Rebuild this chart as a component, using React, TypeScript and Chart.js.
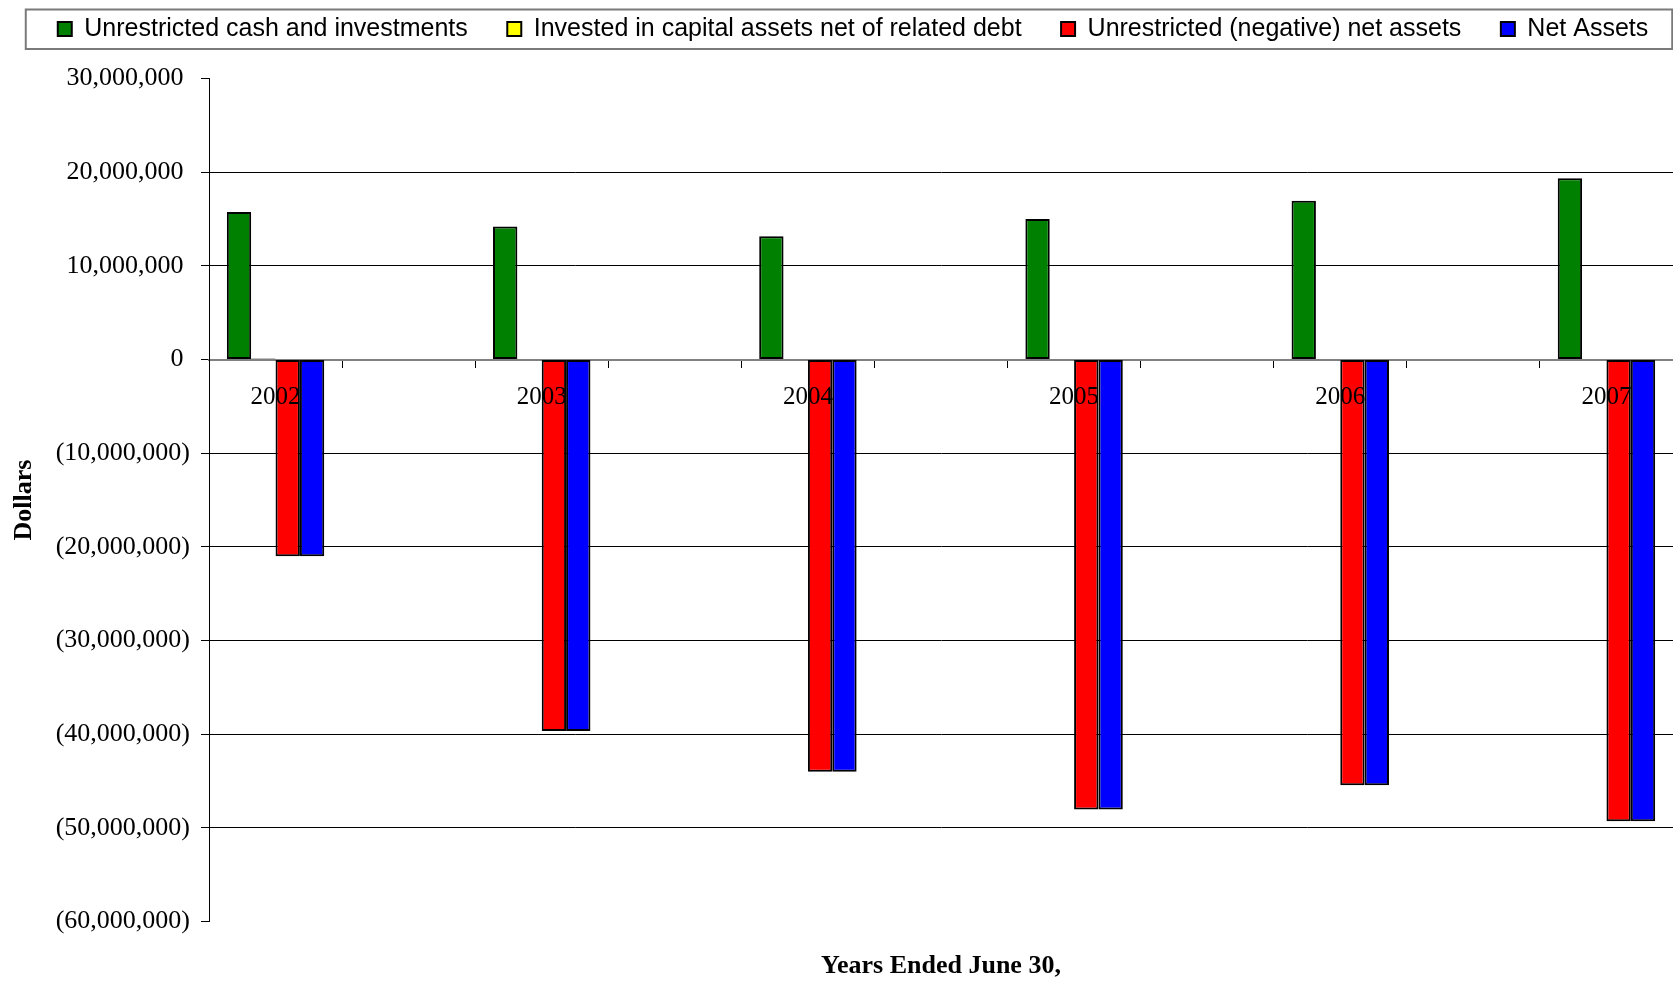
import React, { useEffect, useRef } from 'react';
import { Chart, registerables } from 'chart.js';

Chart.register(...registerables);

// ---- Data ----
const years = ['2002', '2003', '2004', '2005', '2006', '2007'];
const unrestrictedCash = [15750000, 14200000, 13150000, 15000000, 16950000, 19350000];
const investedCapital = [100000, 0, 0, 0, 0, 0];
const unrestrictedNet = [-21000000, -39650000, -44000000, -48050000, -45450000, -49300000];
const netAssets = [-21000000, -39650000, -44000000, -48050000, -45450000, -49300000];

const seriesNames = [
  'Unrestricted cash and investments',
  'Invested in capital assets net of related debt',
  'Unrestricted (negative) net assets',
  'Net Assets',
];
const seriesColors = ['#008000', '#FFFF00', '#FF0000', '#0000FF'];

const Y_MIN = -60000000;
const Y_MAX = 30000000;
const Y_STEP = 10000000;

const SERIF = "'Liberation Serif', 'Times New Roman', serif";
const SANS = "'Liberation Sans', Arial, sans-serif";

const fmtDollars = (v: number) =>
  v < 0 ? '(' + Math.abs(v).toLocaleString('en-US') + ')' : v.toLocaleString('en-US') + ' ';

const yearNums = years.map((y) => Number(y));

// shifts the legend into place and draws its frame
const legendFrame = {
  id: 'legendFrame',
  afterUpdate(chart: any) {
    const lg = chart.legend;
    if (!lg) return;
    const dx = 16.5;
    const dy = -27;
    lg.left += dx;
    lg.right += dx;
    lg.top += dy;
    lg.bottom += dy;
    (lg.legendHitBoxes || []).forEach((h: any) => {
      h.left += dx;
      h.top += dy;
    });
  },
  afterDraw(chart: any) {
    const lg = chart.legend;
    if (!lg || !lg.legendHitBoxes || !lg.legendHitBoxes.length) return;
    const hb = lg.legendHitBoxes;
    const first = hb[0];
    const last = hb[hb.length - 1];
    const cy = first.top + first.height / 2;
    const left = first.left - 32;
    const right = last.left + last.width + 24;
    const ctx = chart.ctx;
    ctx.save();
    ctx.strokeStyle = '#7a7a7a';
    ctx.lineWidth = 2;
    ctx.strokeRect(left, cy - 19.5, right - left, 39.5);
    ctx.restore();
  },
};

export default function App() {
  const ref = useRef<HTMLCanvasElement>(null);

  useEffect(() => {
    const values = [unrestrictedCash, investedCapital, unrestrictedNet, netAssets];
    const chart = new Chart(ref.current as HTMLCanvasElement, {
      type: 'bar',
      data: {
        labels: years,
        datasets: values.map((data, i) => ({
          label: seriesNames[i],
          data,
          backgroundColor: seriesColors[i],
          borderColor: '#000000',
          borderWidth: 2,
          borderSkipped: false,
          barPercentage: 1,
          categoryPercentage: 0.366,
        })),
      },
      options: {
        responsive: false,
        animation: false,
        devicePixelRatio: 1,
        layout: { padding: 0 },
        plugins: {
          tooltip: { enabled: false },
          legend: {
            position: 'top',
            align: 'center',
            labels: {
              font: { family: SANS, size: 25 },
              color: '#000',
              boxWidth: 14,
              boxHeight: 14,
              padding: 39.5,
            },
          },
          title: {
            display: true,
            text: 'Years Ended June 30,',
            position: 'bottom',
            fullSize: false,
            color: '#000',
            font: { family: SERIF, size: 26, weight: 'bold' },
            padding: { top: 28.9, bottom: 2.4 },
          },
        },
        scales: {
          x: {
            type: 'linear',
            offset: false,
            position: { y: 0 },
            min: yearNums[0] - 0.25,
            max: yearNums[yearNums.length - 1] + 0.25,
            afterBuildTicks: (s: any) => {
              s.ticks = yearNums.map((v) => ({ value: v }));
            },
            afterFit: (s: any) => {
              s.height = 0;
            },
            ticks: {
              callback: (v: any) => String(v),
              font: { family: SERIF, size: 25 },
              color: '#000',
              padding: 23,
              maxRotation: 0,
              autoSkip: false,
              z: 1,
            },
            grid: { display: false, drawTicks: false, offset: false },
            border: { display: true, color: '#808080', width: 2 },
          },
          x2: {
            type: 'linear',
            axis: 'x',
            offset: false,
            position: { y: 0 },
            min: yearNums[0] - 0.25,
            max: yearNums[yearNums.length - 1] + 0.25,
            afterBuildTicks: (s: any) => {
              s.ticks = yearNums
                .flatMap((v) => [v - 0.25, v + 0.25])
                .map((v) => ({ value: v }));
            },
            afterFit: (s: any) => {
              s.height = 0;
            },
            ticks: { display: false },
            grid: {
              display: true,
              offset: false,
              drawOnChartArea: false,
              drawTicks: true,
              tickLength: 8,
              tickColor: '#000',
              color: '#000',
            },
            border: { display: false },
          },
          y: {
            type: 'linear',
            min: Y_MIN,
            max: Y_MAX,
            afterFit: (s: any) => {
              s.width = 209;
              s.paddingTop = 78.5;
            },
            ticks: {
              stepSize: Y_STEP,
              callback: (v: any) => fmtDollars(Number(v)),
              font: { family: SERIF, size: 26 },
              color: '#000',
              padding: 11,
            },
            grid: {
              color: (ctx: any) => {
                const v = ctx.tick ? ctx.tick.value : null;
                return v === 0 || v === Y_MAX || v === Y_MIN ? 'rgba(0,0,0,0)' : '#000';
              },
              lineWidth: 1,
              tickLength: 8,
              tickColor: '#000',
            },
            border: { display: true, color: '#000', width: 1 },
            title: {
              display: true,
              text: 'Dollars',
              color: '#000',
              font: { family: SERIF, size: 26, weight: 'bold' },
              padding: { top: 8.4, bottom: 0 },
            },
          },
        },
      } as any,
      plugins: [legendFrame],
    });
    return () => chart.destroy();
  }, []);

  return (
    <div style={{ position: 'absolute', left: 0, top: 0, width: 1673, height: 984, background: '#fff' }}>
      <canvas ref={ref} width={1673} height={984} style={{ display: 'block' }} />
    </div>
  );
}
